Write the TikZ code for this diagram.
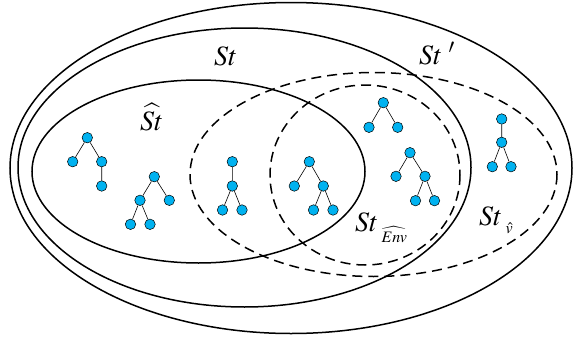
\documentclass[tikz,border=0pt]{standalone}
\usepackage{mathptmx}
\definecolor{treeblue}{RGB}{0,178,240}
\tikzset{
  setline/.style={line width=1.5pt},
  dashline/.style={line width=1.5pt, dash pattern=on 10pt off 6pt},
  tn/.style={circle, draw=black, line width=0.5pt, fill=treeblue, minimum size=10.5pt, inner sep=0pt},
  te/.style={line width=0.6pt, draw=black},
  lbl/.style={anchor=base west, inner sep=0pt, font=\fontsize{28}{30}\selectfont}
}
\newcommand{\subsz}[1]{\mbox{\fontsize{16}{16}\selectfont$#1$}}
\begin{document}
\begin{tikzpicture}[x=1pt,y=-1pt]
\useasboundingbox (0,0) rectangle (573,340);
% sets
\draw[setline] (291,168) ellipse [x radius=281, y radius=165.5];
\draw[setline] (244.5,167.5) ellipse [x radius=226.5, y radius=139.5];
\draw[setline] (198.5,171.5) ellipse [x radius=166.5, y radius=91.5];
\draw[dashline] (365,175) ellipse [x radius=95, y radius=90];
\draw[dashline] (373.5,174.5) ellipse [x radius=183.5, y radius=102];
% labels
\node[lbl] (lSt) at (214,65) {$St$};
\node[lbl] (lStp) at (419,64) {$St\;'$};
\node[lbl] (lSth) at (140,130) {$\widehat{St}$};
\node[lbl] (lStE) at (355,231) {$St\,\raisebox{-11pt}{\subsz{\widehat{Env}}}$};
\node[lbl] (lStv) at (479,225) {$St\,\raisebox{-8pt}{\subsz{\hat{v}}}$};
% tree 1
\node[tn] (a1) at (87.3,137.7) {};
\node[tn] (a2) at (72.7,161.7) {};
\node[tn] (a3) at (101.7,161.7) {};
\node[tn] (a4) at (101.7,186) {};
\draw[te] (a1)--(a2) (a1)--(a3) (a3)--(a4);
% tree 2
\node[tn] (b1) at (154.3,176.7) {};
\node[tn] (b2) at (140,200.3) {};
\node[tn] (b3) at (169.3,200.3) {};
\node[tn] (b4) at (130.5,224.3) {};
\node[tn] (b5) at (150,224.3) {};
\draw[te] (b1)--(b2) (b1)--(b3) (b2)--(b4) (b2)--(b5);
% tree 3
\node[tn] (c1) at (232.3,161.7) {};
\node[tn] (c2) at (232.3,186) {};
\node[tn] (c3) at (222.5,210) {};
\node[tn] (c4) at (242,210) {};
\draw[te] (c1)--(c2) (c2)--(c3) (c2)--(c4);
% tree 4
\node[tn] (d1) at (309.3,161.7) {};
\node[tn] (d2) at (294.3,186) {};
\node[tn] (d3) at (323.3,186) {};
\node[tn] (d4) at (313.5,210) {};
\node[tn] (d5) at (333,210) {};
\draw[te] (d1)--(d2) (d1)--(d3) (d3)--(d4) (d3)--(d5);
% tree 5
\node[tn] (e1) at (383.3,102.7) {};
\node[tn] (e2) at (369,127.3) {};
\node[tn] (e3) at (397.7,127.3) {};
\draw[te] (e1)--(e2) (e1)--(e3);
% tree 6
\node[tn] (f1) at (410,152.7) {};
\node[tn] (f2) at (396,176.3) {};
\node[tn] (f3) at (425,176.3) {};
\node[tn] (f4) at (415.5,200.7) {};
\node[tn] (f5) at (434.5,200.7) {};
\draw[te] (f1)--(f2) (f1)--(f3) (f3)--(f4) (f3)--(f5);
% tree 7
\node[tn] (g1) at (501.7,119) {};
\node[tn] (g2) at (501.7,142.3) {};
\node[tn] (g3) at (492.3,166.7) {};
\node[tn] (g4) at (511,166.7) {};
\draw[te] (g1)--(g2) (g2)--(g3) (g2)--(g4);
\end{tikzpicture}
\end{document}
